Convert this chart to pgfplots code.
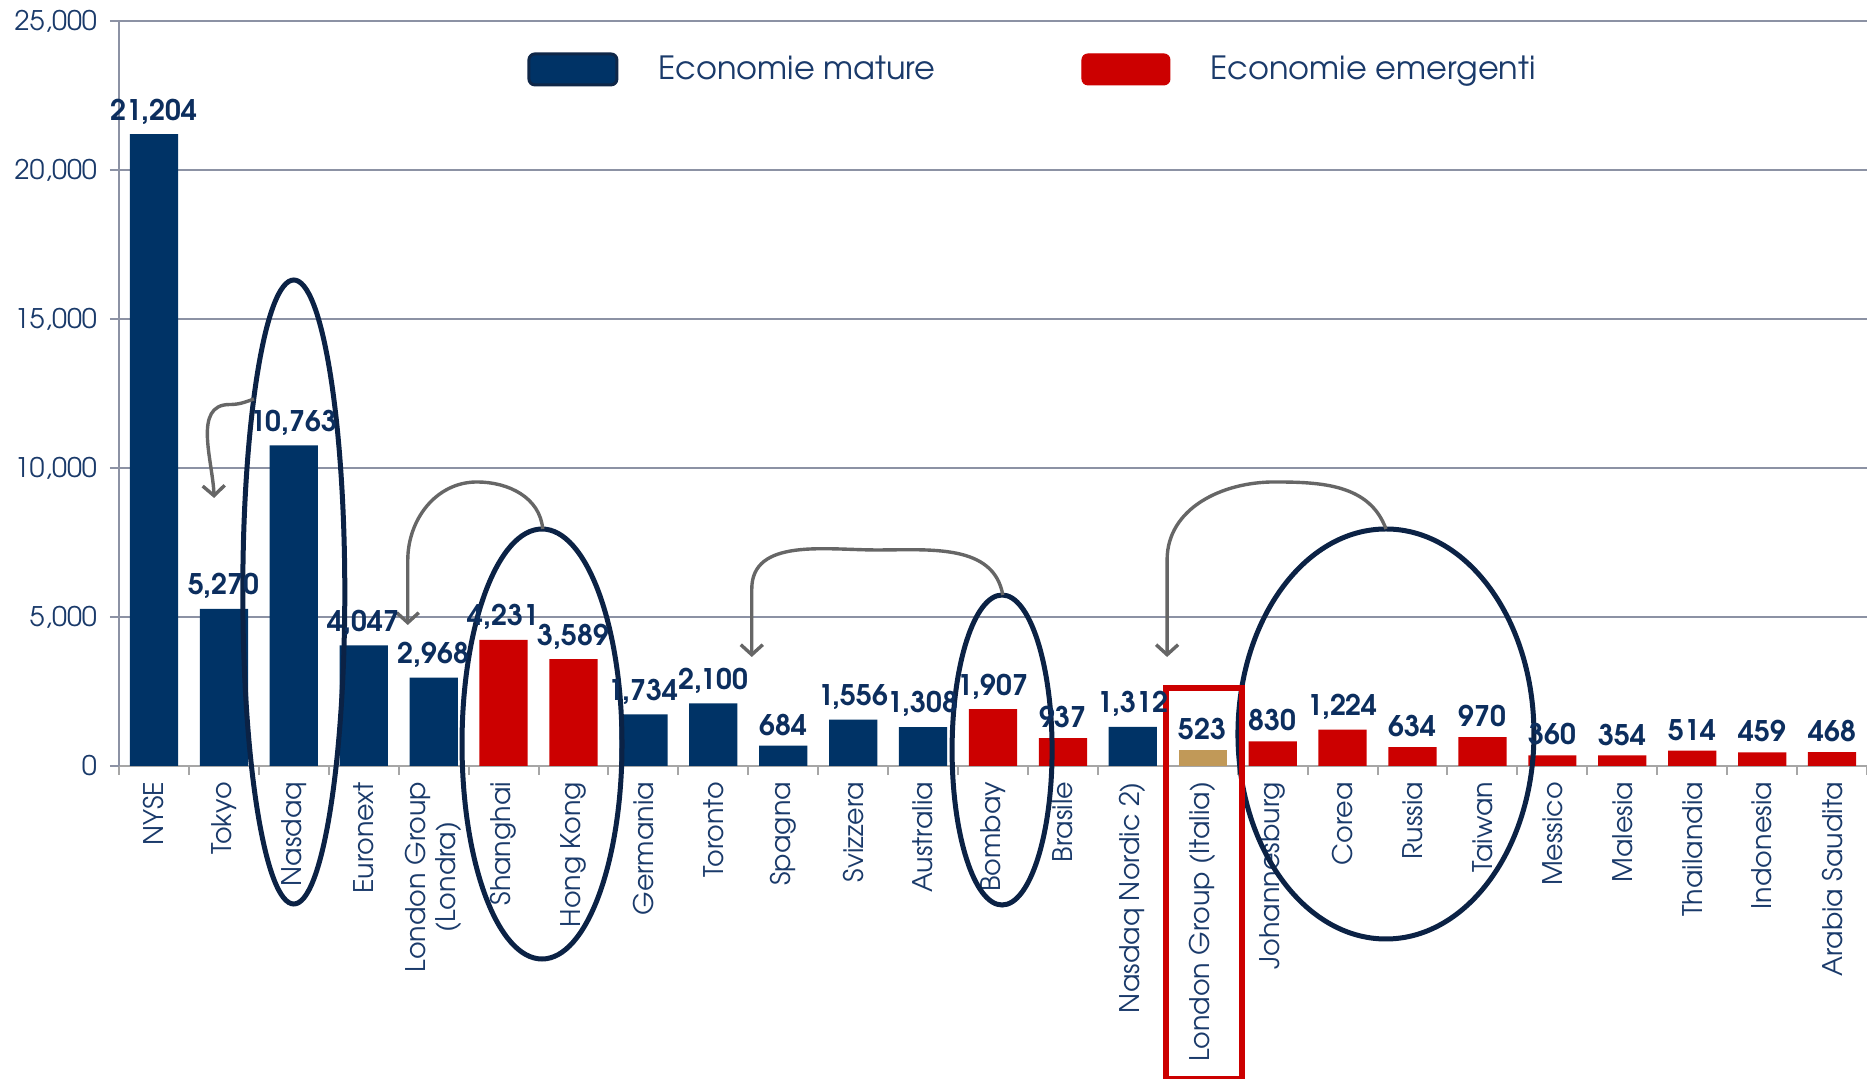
\documentclass[border=0pt]{standalone}
\usepackage{pgfplots}
\pgfplotsset{compat=1.18}
\usepackage{pgfplotstable}
\usepackage{fontspec}
\setmainfont{TeX Gyre Adventor}
\usetikzlibrary{arrows.meta}
\definecolor{navy}{HTML}{003366}
\definecolor{navyedge}{HTML}{0F2748}
\definecolor{labnavy}{HTML}{0C2E5E}
\definecolor{ticknavy}{HTML}{1A3A6A}
\definecolor{embred}{HTML}{CC0000}
\definecolor{tanbar}{HTML}{C19958}
\definecolor{gridgray}{HTML}{8C92A4}
\definecolor{axgray}{HTML}{A6A6A6}
\definecolor{ellnavy}{HTML}{0B2245}
\definecolor{arrgray}{HTML}{666666}

\pgfplotstableread{
x y
0 21204
1 5270
2 10763
3 4047
4 2968
7 1734
8 2100
9 684
10 1556
11 1308
14 1312
}\mature
\pgfplotstableread{
x y
5 4231
6 3589
12 1907
13 937
16 830
17 1224
18 634
19 970
20 360
21 354
22 514
23 459
24 468
}\emerging
\pgfplotstableread{
x y
15 523
}\italia

\begin{document}
\begin{tikzpicture}
\path[use as bounding box] (-59.5pt,-156.5pt) rectangle (874pt,383pt);
\begin{axis}[
  scale only axis, width=874pt, height=372.5pt,
  clip=false,
  ybar, bar width=0.69, bar shift=0pt,
  xmin=-0.5, xmax=24.5, ymin=0, ymax=25000,
  axis x line*=bottom, axis y line*=left,
  axis line style={-},
  x axis line style={axgray, line width=1pt},
  y axis line style={gridgray, line width=1pt},
  ytick={0,5000,...,25000},
  scaled y ticks=false,
  yticklabel={\pgfmathprintnumber[fixed,precision=0,1000 sep={,},assume math mode=true]{\tick}},
  xtick={0,...,24},
  xticklabels={NYSE, Tokyo, Nasdaq, Euronext, {London Group\\(Londra)}, Shanghai, Hong Kong, Germania, Toronto, Spagna, Svizzera, Australia, Bombay, Brasile, Nasdaq Nordic 2), London Group (Italia), Johannesburg, Corea, Russia, Taiwan, Messico, Malesia, Thailandia, Indonesia, Arabia Saudita},
  minor xtick={-0.5,0.5,...,24.5},
  major x tick style={draw=none},
  minor x tick style={axgray, line width=1pt},
  y tick style={gridgray, line width=1pt},
  tick align=outside,
  major tick length=4.5pt, minor tick length=4.5pt,
  ymajorgrids, grid style={gridgray, line width=1pt},
  /pgf/number format/1000 sep={,},
  /pgf/number format/assume math mode=true,
  yticklabel style={font=\fontsize{13.5}{15}\selectfont, text=ticknavy, xshift=-3pt},
  xticklabel style={rotate=90, anchor=east, align=center, font=\fontsize{13.5}{15}\selectfont, text=ticknavy},
  nodes near coords,
  nodes near coords style={font=\bfseries\fontsize{14.2}{16}\selectfont, text=labnavy, yshift=1.5pt, /pgf/number format/1000 sep={,}, /pgf/number format/assume math mode=true},
  legend image code/.code={\draw[rounded corners=3pt,#1] (0pt,-7.75pt) rectangle (44pt,7.75pt);},
  legend style={at={(rel axis cs:0.230,0.935)}, anchor=west, draw=none, fill=none,
    legend columns=2, font=\fontsize{16}{18}\selectfont, text=ticknavy,
    /tikz/every odd column/.append style={column sep=18pt},
    /tikz/every even column/.append style={column sep=71pt}},
  legend cell align=left,
]
\addlegendimage{fill=navy, draw=navyedge, line width=1.5pt}
\addlegendentry{Economie mature}
\addlegendimage{fill=embred, draw=embred, line width=0.5pt}
\addlegendentry{Economie emergenti}

\addplot[fill=navy, draw=none] table[x=x,y=y] {\mature};
\addplot[fill=embred, draw=none] table[x=x,y=y] {\emerging};
\addplot[fill=tanbar, draw=none] table[x=x,y=y] {\italia};

% annotations
\draw[ellnavy, line width=2.5pt] (axis cs:2.0,5839) ellipse [x radius=25.5pt, y radius=156pt];
\draw[ellnavy, line width=2.5pt] (axis cs:5.55,738) ellipse [x radius=40pt, y radius=107.5pt];
\draw[ellnavy, line width=2.5pt] (axis cs:12.13,537) ellipse [x radius=25pt, y radius=77.5pt];
\draw[ellnavy, line width=2.5pt] (axis cs:17.62,1074) ellipse [x radius=74pt, y radius=102.5pt];

\draw[embred, line width=3pt] (axis cs:14.47,2618) rectangle (axis cs:15.56,-10504);

\begin{scope}[arrgray, line width=1.7pt, -{Straight Barb[length=5pt,width=11pt]}]
\draw (axis cs:1.43,12317) to[out=200,in=0] (axis cs:1.08,12130) to[out=180,in=92] (axis cs:0.86,8994);
\draw (axis cs:5.56,7954) to[out=95,in=0] (axis cs:4.62,9531) to[out=180,in=90] (axis cs:3.63,6900) -- (axis cs:3.63,4732);
\draw (axis cs:12.14,5739) to[out=100,in=0] (axis cs:10.34,7249) to[out=180,in=90] (axis cs:8.55,5940) -- (axis cs:8.55,3658);
\draw (axis cs:17.62,7954) to[out=110,in=0] (axis cs:16.02,9531) to[out=180,in=90] (axis cs:14.49,6913) -- (axis cs:14.49,3658);
\end{scope}
\end{axis}
\end{tikzpicture}
\end{document}
